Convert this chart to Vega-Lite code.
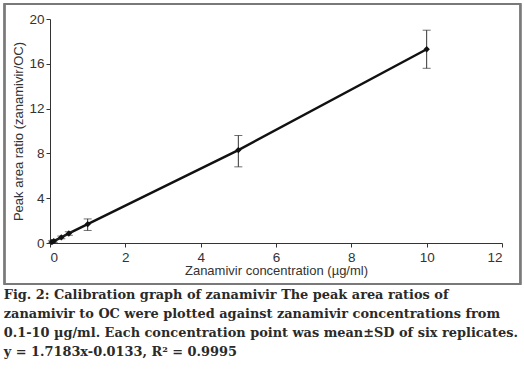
{
  "$schema": "https://vega.github.io/schema/vega-lite/v6.json",
  "width": 452,
  "height": 224,
  "autosize": {"type": "none"},
  "padding": {"left": 50, "top": 19, "right": 22, "bottom": 141},
  "config": {"view": {"stroke": null}, "font": "Liberation Sans"},
  "title": {
    "text": [
      "Fig. 2: Calibration graph of zanamivir The peak area ratios of",
      "zanamivir to OC were plotted against zanamivir concentrations from",
      "0.1-10 µg/ml. Each concentration point was mean±SD of six replicates.",
      "y = 1.7183x-0.0133, R² = 0.9995"
    ],
    "orient": "bottom",
    "anchor": "start",
    "frame": "bounds",
    "font": "DejaVu Serif",
    "fontSize": 12.9,
    "fontWeight": "bold",
    "color": "#2a2a2a",
    "lineHeight": 19,
    "offset": 4
  },
  "data": {
    "values": [
      {"conc": 0.05, "ratio": 0.08, "lo": 0.0, "hi": 0.2},
      {"conc": 0.1, "ratio": 0.16, "lo": 0.06, "hi": 0.28},
      {"conc": 0.3, "ratio": 0.5, "lo": 0.38, "hi": 0.62},
      {"conc": 0.5, "ratio": 0.85, "lo": 0.7, "hi": 1.0},
      {"conc": 1, "ratio": 1.68, "lo": 1.12, "hi": 2.15},
      {"conc": 5, "ratio": 8.3, "lo": 6.8, "hi": 9.6},
      {"conc": 10, "ratio": 17.3, "lo": 15.6, "hi": 19.0}
    ]
  },
  "encoding": {
    "x": {
      "field": "conc", "type": "quantitative",
      "scale": {"domain": [0, 12], "nice": false},
      "axis": {
        "title": "Zanamivir concentration (µg/ml)",
        "values": [0, 2, 4, 6, 8, 10, 12],
        "grid": false, "domainColor": "#333", "tickColor": "#333",
        "tickSize": 4, "labelFontSize": 13.5, "labelColor": "#333",
        "titleFontSize": 13, "titleFontWeight": "normal", "titleColor": "#333",
        "labelPadding": 3, "titlePadding": 1
      }
    },
    "y": {
      "field": "ratio", "type": "quantitative",
      "scale": {"domain": [0, 20], "nice": false},
      "axis": {
        "title": "Peak area ratio (zanamivir/OC)",
        "values": [0, 4, 8, 12, 16, 20],
        "grid": false, "domainColor": "#333", "tickColor": "#333",
        "tickSize": 4, "labelFontSize": 13.5, "labelColor": "#333",
        "titleFontSize": 13, "titleFontWeight": "normal", "titleColor": "#333",
        "labelPadding": 2, "titlePadding": 3
      }
    }
  },
  "layer": [
    {
      "mark": {"type": "rect", "fillOpacity": 0, "stroke": "#7a7a7a", "strokeWidth": 1.5, "clip": false},
      "encoding": {
        "x": {"datum": -1.208, "type": "quantitative"},
        "x2": {"datum": 12.49},
        "y": {"datum": 21.34, "type": "quantitative"},
        "y2": {"datum": -3.66}
      }
    },
    {
      "mark": {"type": "line", "color": "#111", "strokeWidth": 2.5},
      "encoding": {}
    },
    {
      "mark": {"type": "rule", "color": "#333", "strokeWidth": 1},
      "encoding": {"y": {"field": "lo", "type": "quantitative"}, "y2": {"field": "hi"}}
    },
    {
      "mark": {"type": "tick", "orient": "horizontal", "color": "#333", "size": 8, "thickness": 1},
      "encoding": {"y": {"field": "lo", "type": "quantitative"}}
    },
    {
      "mark": {"type": "tick", "orient": "horizontal", "color": "#333", "size": 8, "thickness": 1},
      "encoding": {"y": {"field": "hi", "type": "quantitative"}}
    },
    {
      "mark": {"type": "point", "shape": "diamond", "filled": true, "color": "#111", "size": 40, "opacity": 1},
      "encoding": {}
    }
  ]
}
